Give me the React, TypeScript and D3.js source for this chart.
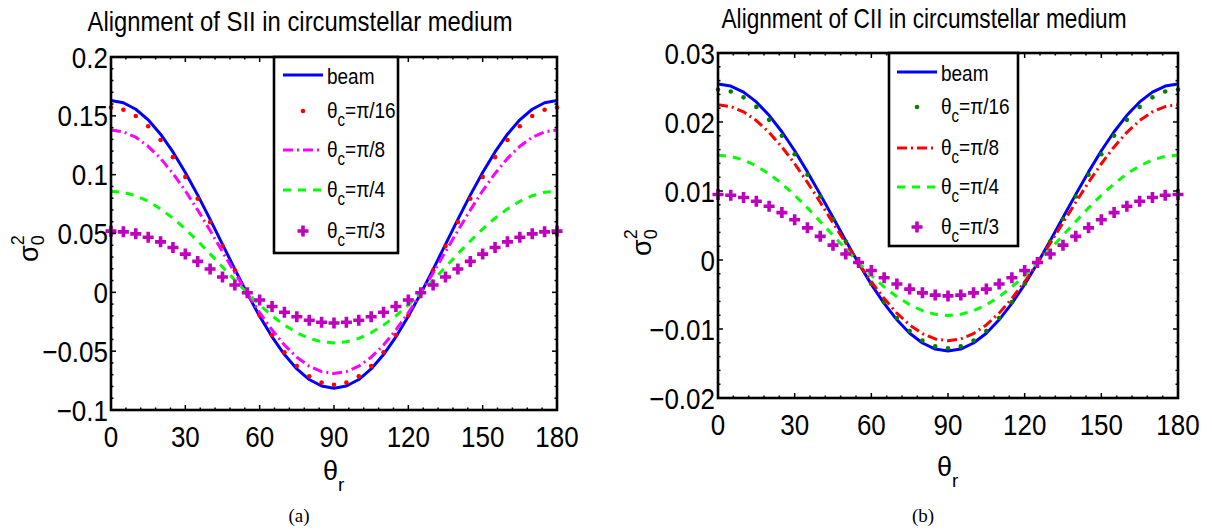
import React from 'react';
import * as d3 from 'd3';

// ---------- data ----------
const thetaDeg = [0, 5, 10, 15, 20, 25, 30, 35, 40, 45, 50, 55, 60, 65, 70, 75, 80, 85, 90,
  95, 100, 105, 110, 115, 120, 125, 130, 135, 140, 145, 150, 155, 160, 165, 170, 175, 180];

const xTickValues = [0, 30, 60, 90, 120, 150, 180];
const xTickLabels = ['0', '30', '60', '90', '120', '150', '180'];

// Panel (a): SII
const sIIBeam = [0.163, 0.1611, 0.1556, 0.1466, 0.1344, 0.1193, 0.1019, 0.0826, 0.0620, 0.0408, 0.0195, -0.0011, -0.0204, -0.0378, -0.0529, -0.0651, -0.0741, -0.0796, -0.0815,
  -0.0796, -0.0741, -0.0651, -0.0529, -0.0378, -0.0204, -0.0011, 0.0195, 0.0408, 0.0620, 0.0826, 0.1019, 0.1193, 0.1344, 0.1466, 0.1556, 0.1611, 0.163];
const sIIPi16 = [0.157, 0.1552, 0.1499, 0.1412, 0.1295, 0.1149, 0.0981, 0.0795, 0.0597, 0.0393, 0.0188, -0.0010, -0.0196, -0.0364, -0.0510, -0.0627, -0.0714, -0.0767, -0.0785,
  -0.0767, -0.0714, -0.0627, -0.0510, -0.0364, -0.0196, -0.0010, 0.0188, 0.0393, 0.0597, 0.0795, 0.0981, 0.1149, 0.1295, 0.1412, 0.1499, 0.1552, 0.157];
const sIIPi8 = [0.138, 0.1364, 0.1318, 0.1241, 0.1138, 0.1010, 0.0863, 0.0699, 0.0525, 0.0345, 0.0165, -0.0009, -0.0173, -0.0320, -0.0448, -0.0551, -0.0628, -0.0674, -0.069,
  -0.0674, -0.0628, -0.0551, -0.0448, -0.0320, -0.0173, -0.0009, 0.0165, 0.0345, 0.0525, 0.0699, 0.0863, 0.1010, 0.1138, 0.1241, 0.1318, 0.1364, 0.138];
const sIIPi4 = [0.086, 0.0850, 0.0821, 0.0774, 0.0709, 0.0630, 0.0538, 0.0436, 0.0327, 0.0215, 0.0103, -0.0006, -0.0108, -0.0200, -0.0279, -0.0344, -0.0391, -0.0420, -0.043,
  -0.0420, -0.0391, -0.0344, -0.0279, -0.0200, -0.0108, -0.0006, 0.0103, 0.0215, 0.0327, 0.0436, 0.0538, 0.0630, 0.0709, 0.0774, 0.0821, 0.0850, 0.086];
const sIIPi3 = [0.052, 0.0514, 0.0497, 0.0468, 0.0429, 0.0381, 0.0325, 0.0263, 0.0198, 0.0130, 0.0062, -0.0003, -0.0065, -0.0121, -0.0169, -0.0208, -0.0237, -0.0254, -0.026,
  -0.0254, -0.0237, -0.0208, -0.0169, -0.0121, -0.0065, -0.0003, 0.0062, 0.0130, 0.0198, 0.0263, 0.0325, 0.0381, 0.0429, 0.0468, 0.0497, 0.0514, 0.052];
const sIIYTicks = [-0.1, -0.05, 0, 0.05, 0.1, 0.15, 0.2];
const sIIYTickLabels = ['\u22120.1', '\u22120.05', '0', '0.05', '0.1', '0.15', '0.2'];

// Panel (b): CII
const cIIBeam = [0.0255, 0.02521, 0.02433, 0.02291, 0.02097, 0.01859, 0.01583, 0.01277, 0.00951, 0.00615, 0.00279, -0.00047, -0.00353, -0.00629, -0.00867, -0.01061, -0.01203, -0.01291, -0.0132,
  -0.01291, -0.01203, -0.01061, -0.00867, -0.00629, -0.00353, -0.00047, 0.00279, 0.00615, 0.00951, 0.01277, 0.01583, 0.01859, 0.02097, 0.02291, 0.02433, 0.02521, 0.0255];
const cIIPi16 = [0.0247, 0.02442, 0.02357, 0.02219, 0.02031, 0.01800, 0.01533, 0.01236, 0.00921, 0.00595, 0.00269, -0.00046, -0.00343, -0.00610, -0.00841, -0.01029, -0.01167, -0.01252, -0.0128,
  -0.01252, -0.01167, -0.01029, -0.00841, -0.00610, -0.00343, -0.00046, 0.00269, 0.00595, 0.00921, 0.01236, 0.01533, 0.01800, 0.02031, 0.02219, 0.02357, 0.02442, 0.0247];
const cIIPi8 = [0.0225, 0.02224, 0.02147, 0.02021, 0.01850, 0.01639, 0.01395, 0.01125, 0.00837, 0.0054, 0.00243, -0.00045, -0.00315, -0.00559, -0.00770, -0.00941, -0.01067, -0.01144, -0.0117,
  -0.01144, -0.01067, -0.00941, -0.00770, -0.00559, -0.00315, -0.00045, 0.00243, 0.0054, 0.00837, 0.01125, 0.01395, 0.01639, 0.01850, 0.02021, 0.02147, 0.02224, 0.0225];
const cIIPi4 = [0.0152, 0.01502, 0.01450, 0.01364, 0.01248, 0.01105, 0.00939, 0.00755, 0.00559, 0.00358, 0.00156, -0.00040, -0.00224, -0.00390, -0.00533, -0.00649, -0.00735, -0.00787, -0.00805,
  -0.00787, -0.00735, -0.00649, -0.00533, -0.00390, -0.00224, -0.00040, 0.00156, 0.00358, 0.00559, 0.00755, 0.00939, 0.01105, 0.01248, 0.01364, 0.01450, 0.01502, 0.0152];
const cIIPi3 = [0.0095, 0.00939, 0.00906, 0.00852, 0.00778, 0.00687, 0.00583, 0.00466, 0.00343, 0.00215, 0.00087, -0.00036, -0.00153, -0.00257, -0.00348, -0.00422, -0.00476, -0.00509, -0.0052,
  -0.00509, -0.00476, -0.00422, -0.00348, -0.00257, -0.00153, -0.00036, 0.00087, 0.00215, 0.00343, 0.00466, 0.00583, 0.00687, 0.00778, 0.00852, 0.00906, 0.00939, 0.0095];
const cIIYTicks = [-0.02, -0.01, 0, 0.01, 0.02, 0.03];
const cIIYTickLabels = ['\u22120.02', '\u22120.01', '0', '0.01', '0.02', '0.03'];

const legendNames = ['beam', '\u03C0/16', '\u03C0/8', '\u03C0/4', '\u03C0/3'];

// ---------- styling / layout ----------
const FONT = '"Liberation Sans", Arial, Helvetica, sans-serif';
const SERIF = '"Liberation Serif", "Times New Roman", serif';

type Kind = 'line' | 'dots' | 'plus';
interface SeriesSpec { values: number[]; color: string; kind: Kind; dash?: string; name: string; }

interface PanelSpec {
  title: string; titleX: number; titleY: number; titleLen: number;
  x0: number; x1: number; yTop: number; yBot: number;
  yDomain: [number, number]; yTicks: number[]; yTickLabels: string[]; yMinorStep: number;
  series: SeriesSpec[];
  legend: { x0: number; x1: number; y0: number; y1: number; lx0: number; lx1: number; tx: number; ys: number[] };
  ylab: { x: number; y: number }; xlab: { x: number; y: number }; caption: string; captionX: number;
}

const panels: PanelSpec[] = [
  {
    title: 'Alignment of SII in circumstellar medium', titleX: 300, titleY: 31, titleLen: 425,
    x0: 111, x1: 557, yTop: 57, yBot: 410,
    yDomain: [-0.1, 0.2], yTicks: sIIYTicks, yTickLabels: sIIYTickLabels, yMinorStep: 0.01,
    series: [
      { values: sIIBeam, color: '#0000FF', kind: 'line', name: legendNames[0] },
      { values: sIIPi16, color: '#FF0000', kind: 'dots', name: legendNames[1] },
      { values: sIIPi8, color: '#FF00FF', kind: 'line', dash: '10,4,2,4', name: legendNames[2] },
      { values: sIIPi4, color: '#00FF00', kind: 'line', dash: '8,7', name: legendNames[3] },
      { values: sIIPi3, color: '#BF00BF', kind: 'plus', name: legendNames[4] },
    ],
    legend: { x0: 274, x1: 398, y0: 57, y1: 253, lx0: 283, lx1: 323, tx: 327, ys: [75, 111, 150, 190, 231] },
    ylab: { x: 38, y: 262 }, xlab: { x: 323, y: 480 }, caption: '(a)', captionX: 299,
  },
  {
    title: 'Alignment of CII in circumstellar medium', titleX: 924, titleY: 28, titleLen: 405,
    x0: 718, x1: 1178, yTop: 53, yBot: 398,
    yDomain: [-0.02, 0.03], yTicks: cIIYTicks, yTickLabels: cIIYTickLabels, yMinorStep: 0.002,
    series: [
      { values: cIIBeam, color: '#0000FF', kind: 'line', name: legendNames[0] },
      { values: cIIPi16, color: '#008000', kind: 'dots', name: legendNames[1] },
      { values: cIIPi8, color: '#FF0000', kind: 'line', dash: '10,4,2,4', name: legendNames[2] },
      { values: cIIPi4, color: '#00FF00', kind: 'line', dash: '8,7', name: legendNames[3] },
      { values: cIIPi3, color: '#BF00BF', kind: 'plus', name: legendNames[4] },
    ],
    legend: { x0: 889, x1: 1018, y0: 53, y1: 246, lx0: 897, lx1: 937, tx: 941, ys: [72, 107, 148, 187, 227] },
    ylab: { x: 651, y: 256 }, xlab: { x: 937, y: 476 }, caption: '(b)', captionX: 923,
  },
];

const STRETCH = 1.15;

function STxt({ x, y, anchor, size, children }: { x: number; y: number; anchor: string; size: number; children: React.ReactNode }) {
  return (
    <text transform={`translate(${x},${y}) scale(1,${STRETCH})`} textAnchor={anchor}
      fontFamily={FONT} fontSize={size} fill="#000">{children}</text>
  );
}

function Marker({ kind, x, y, color }: { kind: Kind; x: number; y: number; color: string }) {
  if (kind === 'dots') return <circle cx={x} cy={y} r={2.3} fill={color} />;
  if (kind === 'plus') return <path d={`M${x - 5.5},${y}H${x + 5.5}M${x},${y - 5.5}V${y + 5.5}`} stroke={color} strokeWidth={3.6} />;
  return null;
}

function Panel({ p }: { p: PanelSpec }) {
  const x = d3.scaleLinear().domain([0, 180]).range([p.x0, p.x1]);
  const y = d3.scaleLinear().domain(p.yDomain).range([p.yBot, p.yTop]);
  const line = d3.line<number>().x((_, i) => x(thetaDeg[i])).y(d => y(d));
  const xMinor = d3.range(0, 180.001, 6).filter(v => v % 30 !== 0);
  const yMinor = d3.range(p.yDomain[0], p.yDomain[1] + 1e-9, p.yMinorStep)
    .filter(v => !p.yTicks.some(t => Math.abs(t - v) < p.yMinorStep / 10));
  const maj = 5, mnr = 2.5;
  const L = p.legend;

  return (
    <g>
      <STxt x={p.titleX} y={p.titleY} anchor="middle" size={24}>
        <tspan textLength={p.titleLen} lengthAdjust="spacingAndGlyphs">{p.title}</tspan>
      </STxt>

      {/* data */}
      {p.series.map((s, si) => (
        <g key={si}>
          {s.kind === 'line' && (
            <path d={line(s.values) || ''} fill="none" stroke={s.color} strokeWidth={3}
              strokeDasharray={s.dash} strokeLinejoin="round" />
          )}
          {s.kind !== 'line' && s.values.map((v, i) => (
            <Marker key={i} kind={s.kind} x={x(thetaDeg[i])} y={y(v)} color={s.color} />
          ))}
        </g>
      ))}

      {/* ticks */}
      <g stroke="#000" strokeWidth={1.5}>
        {xTickValues.map(v => (
          <g key={`xt${v}`}>
            <line x1={x(v)} x2={x(v)} y1={p.yBot} y2={p.yBot - maj} />
            <line x1={x(v)} x2={x(v)} y1={p.yTop} y2={p.yTop + maj} />
          </g>
        ))}
        {xMinor.map(v => (
          <g key={`xm${v}`}>
            <line x1={x(v)} x2={x(v)} y1={p.yBot} y2={p.yBot - mnr} />
            <line x1={x(v)} x2={x(v)} y1={p.yTop} y2={p.yTop + mnr} />
          </g>
        ))}
        {p.yTicks.map(v => (
          <g key={`yt${v}`}>
            <line x1={p.x0} x2={p.x0 + maj} y1={y(v)} y2={y(v)} />
            <line x1={p.x1} x2={p.x1 - maj} y1={y(v)} y2={y(v)} />
          </g>
        ))}
        {yMinor.map((v, i) => (
          <g key={`ym${i}`}>
            <line x1={p.x0} x2={p.x0 + mnr} y1={y(v)} y2={y(v)} />
            <line x1={p.x1} x2={p.x1 - mnr} y1={y(v)} y2={y(v)} />
          </g>
        ))}
      </g>

      {/* box */}
      <rect x={p.x0} y={p.yTop} width={p.x1 - p.x0} height={p.yBot - p.yTop} fill="none" stroke="#000" strokeWidth={2.6} />

      {/* tick labels */}
      {xTickValues.map((v, i) => (
        <STxt key={`xl${v}`} x={x(v)} y={p.yBot + 37} anchor="middle" size={26}>{xTickLabels[i]}</STxt>
      ))}
      {p.yTicks.map((v, i) => (
        <STxt key={`yl${v}`} x={p.x0 - 3} y={y(v) + 10.5} anchor="end" size={26}>{p.yTickLabels[i]}</STxt>
      ))}

      {/* axis labels */}
      <text transform={`translate(${p.ylab.x},${p.ylab.y}) rotate(-90)`} fontFamily={FONT} fontSize={27}>
        {'\u03C3'}
        <tspan fontSize={18} dy={6}>0</tspan>
        <tspan fontSize={18} dx={-10} dy={-20}>2</tspan>
      </text>
      <text x={p.xlab.x} y={p.xlab.y} fontFamily={FONT} fontSize={27}>
        {'\u03B8'}
        <tspan fontSize={19} dx={0} dy={11}>r</tspan>
      </text>
      <text x={p.captionX} y={522} textAnchor="middle" fontFamily={SERIF} fontSize={19}>{p.caption}</text>

      {/* legend */}
      <rect x={L.x0} y={L.y0} width={L.x1 - L.x0} height={L.y1 - L.y0} fill="#fff" stroke="#000" strokeWidth={2.6} />
      {p.series.map((s, i) => {
        const ly = L.ys[i];
        const mid = (L.lx0 + L.lx1) / 2;
        return (
          <g key={`lg${i}`}>
            {s.kind === 'line'
              ? <line x1={L.lx0} x2={L.lx1} y1={ly} y2={ly} stroke={s.color} strokeWidth={3} strokeDasharray={s.dash} />
              : <Marker kind={s.kind} x={mid} y={ly} color={s.color} />}
            {i === 0 ? (
              <text transform={`translate(${L.tx},${ly + 9}) scale(1,1.2)`} fontFamily={FONT} fontSize={19}>{s.name}</text>
            ) : (
              <text transform={`translate(${L.tx},${ly + 7}) scale(1,1.2)`} fontFamily={FONT} fontSize={19}>
                {'\u03B8'}
                <tspan fontSize={15} dy={7}>c</tspan>
                <tspan dy={-7}>={s.name}</tspan>
              </text>
            )}
          </g>
        );
      })}
    </g>
  );
}

export default function App() {
  return (
    <svg width={1212} height={531} viewBox="0 0 1212 531"
      style={{ position: 'absolute', left: 0, top: 0, display: 'block', background: '#fff' }}>
      <rect x={0} y={0} width={1212} height={531} fill="#fff" />
      {panels.map((p, i) => <Panel key={i} p={p} />)}
    </svg>
  );
}
